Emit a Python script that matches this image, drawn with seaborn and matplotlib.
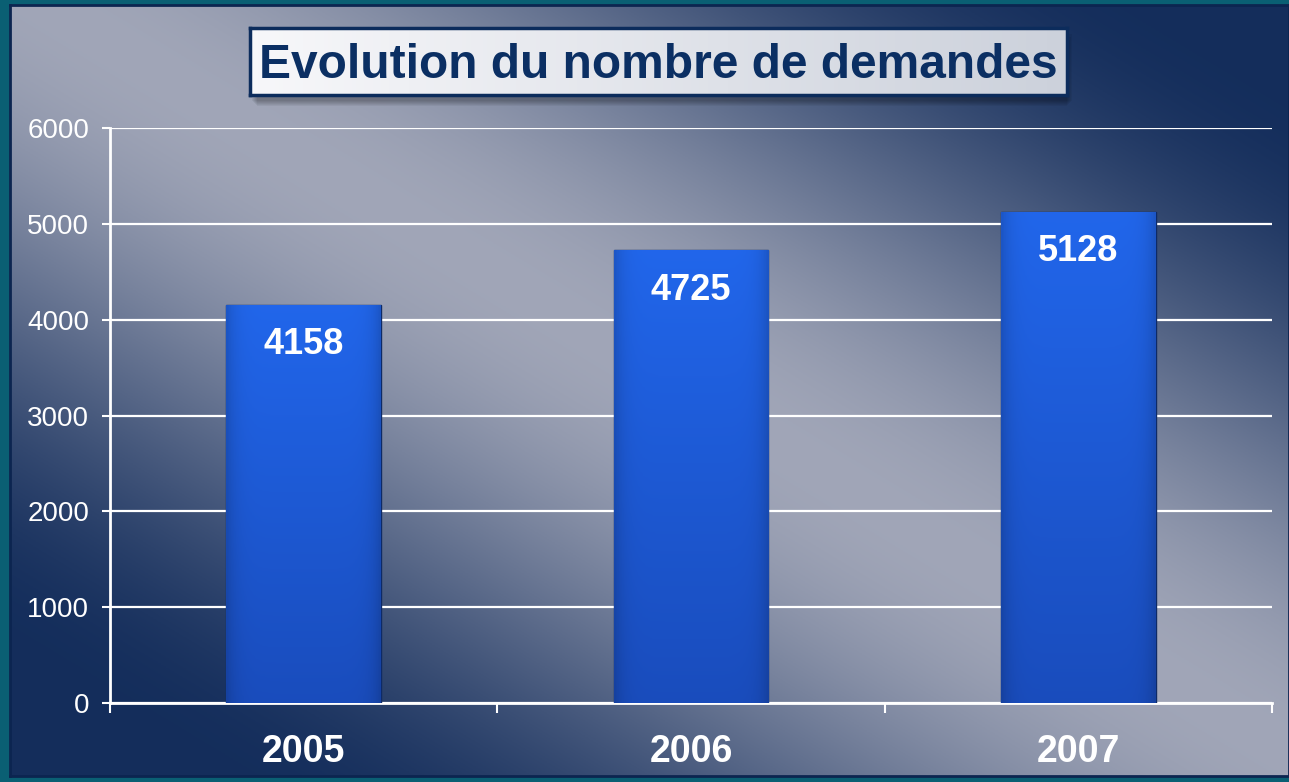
import numpy as np
import matplotlib.pyplot as plt
import seaborn as sns
from matplotlib.patches import Rectangle

# data
years = ["2005", "2006", "2007"]
demandes = [4158, 4725, 5128]
y_ticks = [0, 1000, 2000, 3000, 4000, 5000, 6000]
title = "Evolution du nombre de demandes"

W, H = 1289, 782

sns.set_theme(style="white")
plt.rcParams["font.family"] = ["Liberation Sans", "DejaVu Sans"]

fig = plt.figure(figsize=(W / 100, H / 100), dpi=100, facecolor="#0a5f73")

# slide-like background panel with a soft diagonal gradient
bg = fig.add_axes([10 / W, 6 / H, 1279 / W, 771 / H], zorder=0)
xx, yy = np.meshgrid(np.linspace(0, 1, 500), np.linspace(0, 1, 300))
t = np.clip(np.abs(xx - yy - 0.03) / 0.85, 0, 1)
t = t * t * (3 - 2 * t)
light = np.array([0.63, 0.65, 0.72])
dark = np.array([0.08, 0.18, 0.36])
bg.imshow(light * (1 - t[..., None]) + dark * t[..., None], aspect="auto", extent=[0, 1, 1, 0])
bg.set_xticks([])
bg.set_yticks([])
for s in bg.spines.values():
    s.set_color("#0c2550")
    s.set_linewidth(2)

# main chart
ax = fig.add_axes([110 / W, 1 - 703 / H, 1162 / W, 575 / H], zorder=2)
ax.set_facecolor("none")
sns.barplot(x=years, y=demandes, color="#1f5ce0", width=0.4,
            edgecolor="#0e2a66", linewidth=1, ax=ax, zorder=3)

# vertical shading inside the bars
grad = np.linspace(0, 1, 100)[:, None]
top_c = np.array([0.13, 0.40, 0.92])
bot_c = np.array([0.10, 0.30, 0.74])
horiz = 1 - 0.15 * np.abs(np.linspace(-1, 1, 60)[None, :]) ** 8
shade = (top_c * (1 - grad[..., None]) + bot_c * grad[..., None]) * horiz[..., None]
for p in ax.patches:
    x0, w, h = p.get_x(), p.get_width(), p.get_height()
    im = ax.imshow(shade, extent=[x0, x0 + w, 0, h], aspect="auto", zorder=3.5)
    im.set_clip_path(p)

for i, v in enumerate(demandes):
    ax.annotate(f"{v}", (i, v), xytext=(0, -29), textcoords="offset points",
                ha="center", va="center", color="white", fontsize=26,
                fontweight="bold", zorder=5)

ax.set_xlim(-0.5, 2.5)
ax.set_ylim(0, 6000)
ax.set_yticks(y_ticks)
ax.set_xticks([0, 1, 2])
ax.set_xticklabels(years)
ax.set_xticks([-0.5, 0.5, 1.5, 2.5], minor=True)
ax.yaxis.grid(True, color="white", linewidth=1.6)
ax.set_axisbelow(True)
ax.tick_params(axis="y", colors="white", labelsize=20, length=6, width=1.5, pad=9, left=True)
ax.tick_params(axis="x", which="major", colors="white", labelsize=27, length=0, pad=22)
ax.tick_params(axis="x", which="minor", colors="white", length=7, width=1.5, bottom=True)
for lab in ax.get_xticklabels():
    lab.set_fontweight("bold")
for s in ["top", "right"]:
    ax.spines[s].set_visible(False)
for s in ["left", "bottom"]:
    ax.spines[s].set_color("white")
    ax.spines[s].set_linewidth(2)
ax.set_xlabel("")
ax.set_ylabel("")

# title box with soft shadow
for k in range(6):
    fig.patches.append(Rectangle(((252 + k) / W, 1 - (101 + k) / H), (820 - 2 * k) / W, (67 - 2 * k) / H,
                                 transform=fig.transFigure, color="black", alpha=0.05,
                                 lw=0, zorder=3))
tax = fig.add_axes([250 / W, 1 - 95 / H, 817 / W, 67 / H], zorder=4)
hg = np.linspace(0, 1, 200)[None, :]
c1 = np.array([0.97, 0.97, 0.98])
c2 = np.array([0.80, 0.82, 0.86])
tax.imshow(c1 * (1 - hg[..., None]) + c2 * hg[..., None], aspect="auto", extent=[0, 1, 0, 1])
tax.set_xticks([])
tax.set_yticks([])
for s in tax.spines.values():
    s.set_color("#0c2c5c")
    s.set_linewidth(2.5)
tax.text(0.5, 0.44, title, ha="center", va="center", fontsize=34.5,
         fontweight="bold", color="#0b2f63", transform=tax.transAxes)

fig.savefig("out.png", dpi=100, facecolor=fig.get_facecolor())
